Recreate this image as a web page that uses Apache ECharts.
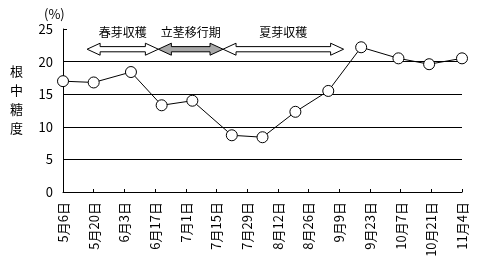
<!DOCTYPE html>
<html><head><meta charset="utf-8">
<script src="https://cdn.jsdelivr.net/npm/echarts@6/dist/echarts.min.js"></script>
<style>html,body{margin:0;padding:0;background:#fff}#c{width:481px;height:266px}</style>
</head><body><div id="c"></div>
<script>
const tickLabels = ['5月6日','5月20日','6月3日','6月17日','7月1日','7月15日','7月29日','8月12日','8月26日','9月9日','9月23日','10月7日','10月21日','11月4日'];
const sampleDays = [0, 14, 31, 45, 59, 77, 91, 106, 121, 136, 153, 167, 182];
const sugar = [17.0, 16.8, 18.4, 13.3, 14.0, 8.7, 8.4, 12.3, 15.5, 22.2, 20.5, 19.6, 20.5];
const yTicks = [0, 5, 10, 15, 20, 25];
const periodNames = ['春芽収穫', '立茎移行期', '夏芽収穫'];
const periodStart = [11, 43.5, 73];
const periodEnd = [43.5, 73, 128];
const periodFill = ['#ffffff', '#a8a8a8', '#ffffff'];
const arrowLevel = 21.9;
const labelLevel = 24.4;

const FONT = '"Noto Sans CJK JP", sans-serif';
const chart = echarts.init(document.getElementById('c'), null, {renderer: 'canvas'});
const baseGraphic = [
  {type: 'text', left: 44, top: 8, style: {text: '(%)', font: '13px ' + FONT, fill: '#000'}},
  {type: 'text', left: 10, top: 62, style: {text: '根\n中\n糖\n度', font: '13px ' + FONT, lineHeight: 19, fill: '#000'}}
];
chart.setOption({
  backgroundColor: '#fff',
  animation: false,
  grid: {left: 63, top: 29, width: 399, height: 163, containLabel: false},
  xAxis: {
    type: 'value', min: 0, max: 182, interval: 14,
    axisLine: {lineStyle: {color: '#000', width: 1}},
    axisTick: {inside: true, length: 3, lineStyle: {color: '#000'}},
    splitLine: {show: false},
    axisLabel: {
      rotate: 90, margin: 10, color: '#000', fontSize: 13, fontFamily: FONT,
      formatter: v => (v % 14 === 0 ? tickLabels[v / 14] : '')
    }
  },
  yAxis: {
    type: 'value', min: yTicks[0], max: yTicks[yTicks.length - 1], interval: 5,
    axisLine: {show: true, lineStyle: {color: '#000', width: 1}},
    axisTick: {show: true, inside: true, length: 4, lineStyle: {color: '#000'}},
    splitLine: {show: true, showMinLine: false, showMaxLine: false, lineStyle: {color: '#000', width: 1}},
    axisLabel: {margin: 10, color: '#000', fontSize: 13, fontFamily: FONT}
  },
  series: [{
    type: 'line',
    data: sampleDays.map((d, i) => [d, sugar[i]]),
    symbol: 'circle', symbolSize: 11,
    itemStyle: {color: '#fff', borderColor: '#000', borderWidth: 1},
    lineStyle: {color: '#000', width: 1},
    clip: false,
    z: 5
  }],
  graphic: baseGraphic
});

function arrowPoints(x1, x2, y) {
  const h = 13, H = 6, s = 2.6;
  return [[x1, y], [x1 + h, y - H], [x1 + h, y - s], [x2 - h, y - s], [x2 - h, y - H], [x2, y],
          [x2 - h, y + H], [x2 - h, y + s], [x1 + h, y + s], [x1 + h, y + H]];
}
const extra = [];
periodNames.forEach((name, i) => {
  const p1 = chart.convertToPixel({gridIndex: 0}, [periodStart[i], arrowLevel]);
  const p2 = chart.convertToPixel({gridIndex: 0}, [periodEnd[i], arrowLevel]);
  const pl = chart.convertToPixel({gridIndex: 0}, [(periodStart[i] + periodEnd[i]) / 2, labelLevel]);
  extra.push({type: 'polygon', z: 10, shape: {points: arrowPoints(p1[0], p2[0], p1[1])},
    style: {fill: periodFill[i], stroke: '#000', lineWidth: 1}});
  extra.push({type: 'text', z: 10, x: pl[0], y: pl[1],
    style: {text: name, font: '12px ' + FONT, fill: '#000', textAlign: 'center', textVerticalAlign: 'middle'}});
});
chart.setOption({graphic: baseGraphic.concat(extra)}, {replaceMerge: ['graphic']});
</script></body></html>
